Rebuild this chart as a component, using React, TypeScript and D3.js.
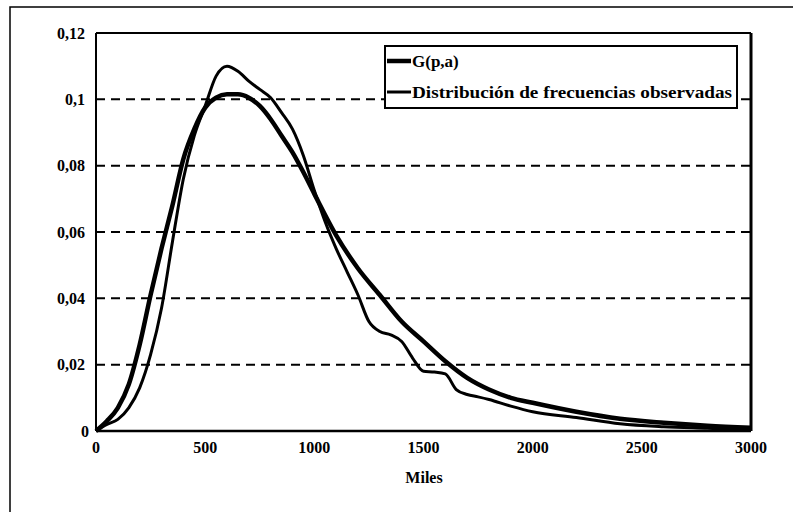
import React from 'react';
import * as d3 from 'd3';

// miles values sampled along the x axis
const gMiles = [0, 50, 100, 150, 200, 250, 300, 350, 400, 450, 500, 550, 600, 650, 700, 750, 800, 850, 900, 950, 1000, 1100, 1200, 1300, 1400, 1500, 1600, 1700, 1800, 1900, 2000, 2200, 2400, 2600, 2800, 3000];
const gValues = [0, 0.003, 0.007, 0.014, 0.026, 0.041, 0.055, 0.068, 0.082, 0.091, 0.0975, 0.1005, 0.1015, 0.1015, 0.1005, 0.098, 0.094, 0.089, 0.084, 0.078, 0.0715, 0.059, 0.049, 0.041, 0.033, 0.027, 0.021, 0.016, 0.0125, 0.01, 0.0085, 0.0058, 0.0037, 0.0025, 0.0016, 0.001];

const obsMiles = [0, 50, 100, 150, 200, 250, 300, 350, 400, 450, 500, 550, 600, 650, 700, 750, 800, 850, 900, 950, 1000, 1050, 1100, 1150, 1200, 1250, 1300, 1350, 1400, 1450, 1500, 1550, 1600, 1650, 1700, 1750, 1800, 1900, 2000, 2200, 2400, 2600, 2800, 3000];
const obsValues = [0, 0.002, 0.0035, 0.007, 0.013, 0.023, 0.037, 0.057, 0.076, 0.089, 0.098, 0.107, 0.11, 0.1085, 0.1055, 0.103, 0.1005, 0.096, 0.091, 0.083, 0.0725, 0.063, 0.055, 0.048, 0.041, 0.033, 0.03, 0.029, 0.027, 0.022, 0.018, 0.0178, 0.0172, 0.0125, 0.011, 0.0103, 0.0095, 0.0075, 0.0058, 0.0041, 0.0022, 0.0013, 0.0008, 0.0003];

const yTicks = [0, 0.02, 0.04, 0.06, 0.08, 0.1, 0.12];
const yTickLabels = ['0', '0,02', '0,04', '0,06', '0,08', '0,1', '0,12'];
const xTicks = [0, 500, 1000, 1500, 2000, 2500, 3000];

const legendLabels = ['G(p,a)', 'Distribución de frecuencias observadas'];
const xTitle = 'Miles';

const font = '"Liberation Serif", "DejaVu Serif", serif';

const App = () => {
  const left = 96, right = 751, top = 33, bottom = 431;

  const x = d3.scaleLinear().domain([0, 3000]).range([left, right]);
  const y = d3.scaleLinear().domain([0, 0.12]).range([bottom, top]);

  const line = d3.line<[number, number]>()
    .x(d => x(d[0]))
    .y(d => y(d[1]))
    .curve(d3.curveMonotoneX);

  const gPath = line(gMiles.map((m, i) => [m, gValues[i]]));
  const obsPath = line(obsMiles.map((m, i) => [m, obsValues[i]]));

  return (
    <svg width={793} height={512} style={{ position: 'absolute', left: 0, top: 0, background: '#fff' }}>
      {/* outer frame */}
      <path d="M10,512 L10,7 L793,7" fill="none" stroke="#000" strokeWidth={1.5} />

      {/* dashed grid */}
      {yTicks.filter(t => t > 0 && t < 0.12).map(t => (
        <line key={t} x1={left} x2={right} y1={y(t)} y2={y(t)}
          stroke="#000" strokeWidth={2} strokeDasharray="9,6" />
      ))}

      {/* plot frame */}
      <line x1={left} x2={right} y1={top} y2={top} stroke="#000" strokeWidth={2} />
      <line x1={right} x2={right} y1={top} y2={bottom} stroke="#000" strokeWidth={3} />
      <line x1={left} x2={left} y1={top} y2={bottom} stroke="#000" strokeWidth={2} />
      <line x1={left} x2={right} y1={bottom} y2={bottom} stroke="#000" strokeWidth={2.5} />

      {/* y tick labels */}
      {yTicks.map((t, i) => (
        <text key={t} x={t === 0 ? 89 : 85} y={y(t)} dy="0.35em" textAnchor="end"
          fontFamily={font} fontWeight="bold" fontSize={16}>{yTickLabels[i]}</text>
      ))}

      {/* x tick labels */}
      {xTicks.map(t => (
        <text key={t} x={x(t)} y={447} dy="0.35em" textAnchor="middle"
          fontFamily={font} fontWeight="bold" fontSize={16}>{t}</text>
      ))}
      <text x={424} y={477} dy="0.35em" textAnchor="middle"
        fontFamily={font} fontWeight="bold" fontSize={16}>{xTitle}</text>

      {/* curves */}
      <path d={obsPath ?? ''} fill="none" stroke="#000" strokeWidth={3} strokeLinejoin="round" />
      <path d={gPath ?? ''} fill="none" stroke="#000" strokeWidth={4.5} strokeLinejoin="round" />

      {/* legend */}
      <rect x={385} y={46} width={352} height={62} fill="#fff" stroke="#000" strokeWidth={2} />
      <line x1={387} x2={411} y1={61} y2={61} stroke="#000" strokeWidth={4.5} />
      <text x={412} y={61} dy="0.35em" fontFamily={font} fontWeight="bold" fontSize={17}>{legendLabels[0]}</text>
      <line x1={387} x2={411} y1={92} y2={92} stroke="#000" strokeWidth={3} />
      <text x={412} y={92} dy="0.35em" fontFamily={font} fontWeight="bold" fontSize={16}
        textLength={320} lengthAdjust="spacingAndGlyphs">{legendLabels[1]}</text>
    </svg>
  );
};

export default App;
